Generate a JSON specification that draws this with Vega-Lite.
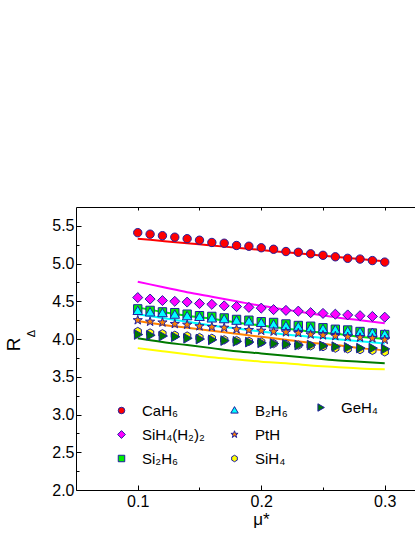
{
  "$schema": "https://vega.github.io/schema/vega-lite/v6.json",
  "width": 339,
  "height": 283,
  "autosize": "none",
  "padding": {"left": 76, "top": 207, "right": 0, "bottom": 47},
  "background": "white",
  "config": {
    "font": "Liberation Sans",
    "view": {"stroke": null},
    "axis": {"grid": false, "labelFont": "Liberation Sans", "labelFontSize": 16, "labelColor": "black", "titleFont": "Liberation Sans", "titleFontWeight": "normal", "titleColor": "black", "domainColor": "black", "tickColor": "black", "domainWidth": 1, "tickWidth": 1},
    "legend": {"labelFont": "Liberation Sans", "labelFontSize": 15, "labelColor": "black", "symbolSize": 42, "symbolStrokeWidth": 1, "labelOffset": 13, "rowPadding": 8, "padding": 0}
  },
  "datasets": {
    "pts": [
      {"series":"CaH₆","mu":0.10,"r":5.41},{"series":"CaH₆","mu":0.11,"r":5.39},{"series":"CaH₆","mu":0.12,"r":5.37},{"series":"CaH₆","mu":0.13,"r":5.35},{"series":"CaH₆","mu":0.14,"r":5.33},{"series":"CaH₆","mu":0.15,"r":5.31},{"series":"CaH₆","mu":0.16,"r":5.28},{"series":"CaH₆","mu":0.17,"r":5.27},{"series":"CaH₆","mu":0.18,"r":5.24},{"series":"CaH₆","mu":0.19,"r":5.23},{"series":"CaH₆","mu":0.20,"r":5.21},{"series":"CaH₆","mu":0.21,"r":5.19},{"series":"CaH₆","mu":0.22,"r":5.16},{"series":"CaH₆","mu":0.23,"r":5.15},{"series":"CaH₆","mu":0.24,"r":5.13},{"series":"CaH₆","mu":0.25,"r":5.11},{"series":"CaH₆","mu":0.26,"r":5.09},{"series":"CaH₆","mu":0.27,"r":5.07},{"series":"CaH₆","mu":0.28,"r":5.06},{"series":"CaH₆","mu":0.29,"r":5.04},{"series":"CaH₆","mu":0.30,"r":5.02},
      {"series":"SiH₄(H₂)₂","mu":0.10,"r":4.55},{"series":"SiH₄(H₂)₂","mu":0.11,"r":4.53},{"series":"SiH₄(H₂)₂","mu":0.12,"r":4.51},{"series":"SiH₄(H₂)₂","mu":0.13,"r":4.50},{"series":"SiH₄(H₂)₂","mu":0.14,"r":4.49},{"series":"SiH₄(H₂)₂","mu":0.15,"r":4.47},{"series":"SiH₄(H₂)₂","mu":0.16,"r":4.46},{"series":"SiH₄(H₂)₂","mu":0.17,"r":4.44},{"series":"SiH₄(H₂)₂","mu":0.18,"r":4.43},{"series":"SiH₄(H₂)₂","mu":0.19,"r":4.42},{"series":"SiH₄(H₂)₂","mu":0.20,"r":4.41},{"series":"SiH₄(H₂)₂","mu":0.21,"r":4.39},{"series":"SiH₄(H₂)₂","mu":0.22,"r":4.38},{"series":"SiH₄(H₂)₂","mu":0.23,"r":4.37},{"series":"SiH₄(H₂)₂","mu":0.24,"r":4.35},{"series":"SiH₄(H₂)₂","mu":0.25,"r":4.34},{"series":"SiH₄(H₂)₂","mu":0.26,"r":4.33},{"series":"SiH₄(H₂)₂","mu":0.27,"r":4.32},{"series":"SiH₄(H₂)₂","mu":0.28,"r":4.31},{"series":"SiH₄(H₂)₂","mu":0.29,"r":4.30},{"series":"SiH₄(H₂)₂","mu":0.30,"r":4.29},
      {"series":"Si₂H₆","mu":0.10,"r":4.40},{"series":"Si₂H₆","mu":0.11,"r":4.38},{"series":"Si₂H₆","mu":0.12,"r":4.36},{"series":"Si₂H₆","mu":0.13,"r":4.35},{"series":"Si₂H₆","mu":0.14,"r":4.33},{"series":"Si₂H₆","mu":0.15,"r":4.31},{"series":"Si₂H₆","mu":0.16,"r":4.30},{"series":"Si₂H₆","mu":0.17,"r":4.28},{"series":"Si₂H₆","mu":0.18,"r":4.26},{"series":"Si₂H₆","mu":0.19,"r":4.25},{"series":"Si₂H₆","mu":0.20,"r":4.23},{"series":"Si₂H₆","mu":0.21,"r":4.22},{"series":"Si₂H₆","mu":0.22,"r":4.20},{"series":"Si₂H₆","mu":0.23,"r":4.18},{"series":"Si₂H₆","mu":0.24,"r":4.17},{"series":"Si₂H₆","mu":0.25,"r":4.15},{"series":"Si₂H₆","mu":0.26,"r":4.13},{"series":"Si₂H₆","mu":0.27,"r":4.12},{"series":"Si₂H₆","mu":0.28,"r":4.10},{"series":"Si₂H₆","mu":0.29,"r":4.08},{"series":"Si₂H₆","mu":0.30,"r":4.06},
      {"series":"B₂H₆","mu":0.10,"r":4.37},{"series":"B₂H₆","mu":0.11,"r":4.35},{"series":"B₂H₆","mu":0.12,"r":4.34},{"series":"B₂H₆","mu":0.13,"r":4.32},{"series":"B₂H₆","mu":0.14,"r":4.30},{"series":"B₂H₆","mu":0.15,"r":4.29},{"series":"B₂H₆","mu":0.16,"r":4.27},{"series":"B₂H₆","mu":0.17,"r":4.26},{"series":"B₂H₆","mu":0.18,"r":4.24},{"series":"B₂H₆","mu":0.19,"r":4.23},{"series":"B₂H₆","mu":0.20,"r":4.21},{"series":"B₂H₆","mu":0.21,"r":4.19},{"series":"B₂H₆","mu":0.22,"r":4.17},{"series":"B₂H₆","mu":0.23,"r":4.16},{"series":"B₂H₆","mu":0.24,"r":4.14},{"series":"B₂H₆","mu":0.25,"r":4.13},{"series":"B₂H₆","mu":0.26,"r":4.12},{"series":"B₂H₆","mu":0.27,"r":4.10},{"series":"B₂H₆","mu":0.28,"r":4.09},{"series":"B₂H₆","mu":0.29,"r":4.08},{"series":"B₂H₆","mu":0.30,"r":4.06},
      {"series":"PtH","mu":0.10,"r":4.25},{"series":"PtH","mu":0.11,"r":4.23},{"series":"PtH","mu":0.12,"r":4.22},{"series":"PtH","mu":0.13,"r":4.20},{"series":"PtH","mu":0.14,"r":4.19},{"series":"PtH","mu":0.15,"r":4.17},{"series":"PtH","mu":0.16,"r":4.16},{"series":"PtH","mu":0.17,"r":4.15},{"series":"PtH","mu":0.18,"r":4.13},{"series":"PtH","mu":0.19,"r":4.12},{"series":"PtH","mu":0.20,"r":4.11},{"series":"PtH","mu":0.21,"r":4.10},{"series":"PtH","mu":0.22,"r":4.09},{"series":"PtH","mu":0.23,"r":4.08},{"series":"PtH","mu":0.24,"r":4.06},{"series":"PtH","mu":0.25,"r":4.05},{"series":"PtH","mu":0.26,"r":4.04},{"series":"PtH","mu":0.27,"r":4.03},{"series":"PtH","mu":0.28,"r":4.02},{"series":"PtH","mu":0.29,"r":4.01},{"series":"PtH","mu":0.30,"r":3.99},
      {"series":"SiH₄","mu":0.10,"r":4.10},{"series":"SiH₄","mu":0.11,"r":4.08},{"series":"SiH₄","mu":0.12,"r":4.07},{"series":"SiH₄","mu":0.13,"r":4.05},{"series":"SiH₄","mu":0.14,"r":4.04},{"series":"SiH₄","mu":0.15,"r":4.02},{"series":"SiH₄","mu":0.16,"r":4.01},{"series":"SiH₄","mu":0.17,"r":3.99},{"series":"SiH₄","mu":0.18,"r":3.98},{"series":"SiH₄","mu":0.19,"r":3.97},{"series":"SiH₄","mu":0.20,"r":3.96},{"series":"SiH₄","mu":0.21,"r":3.94},{"series":"SiH₄","mu":0.22,"r":3.93},{"series":"SiH₄","mu":0.23,"r":3.92},{"series":"SiH₄","mu":0.24,"r":3.91},{"series":"SiH₄","mu":0.25,"r":3.90},{"series":"SiH₄","mu":0.26,"r":3.88},{"series":"SiH₄","mu":0.27,"r":3.87},{"series":"SiH₄","mu":0.28,"r":3.86},{"series":"SiH₄","mu":0.29,"r":3.85},{"series":"SiH₄","mu":0.30,"r":3.83},
      {"series":"GeH₄","mu":0.10,"r":4.06},{"series":"GeH₄","mu":0.11,"r":4.05},{"series":"GeH₄","mu":0.12,"r":4.04},{"series":"GeH₄","mu":0.13,"r":4.03},{"series":"GeH₄","mu":0.14,"r":4.01},{"series":"GeH₄","mu":0.15,"r":4.00},{"series":"GeH₄","mu":0.16,"r":3.99},{"series":"GeH₄","mu":0.17,"r":3.98},{"series":"GeH₄","mu":0.18,"r":3.97},{"series":"GeH₄","mu":0.19,"r":3.96},{"series":"GeH₄","mu":0.20,"r":3.95},{"series":"GeH₄","mu":0.21,"r":3.94},{"series":"GeH₄","mu":0.22,"r":3.93},{"series":"GeH₄","mu":0.23,"r":3.92},{"series":"GeH₄","mu":0.24,"r":3.92},{"series":"GeH₄","mu":0.25,"r":3.91},{"series":"GeH₄","mu":0.26,"r":3.90},{"series":"GeH₄","mu":0.27,"r":3.89},{"series":"GeH₄","mu":0.28,"r":3.88},{"series":"GeH₄","mu":0.29,"r":3.88},{"series":"GeH₄","mu":0.30,"r":3.87}
    ],
    "fit": [
      {"series":"CaH₆","mu":0.10,"r":5.33},{"series":"CaH₆","mu":0.12,"r":5.30},{"series":"CaH₆","mu":0.14,"r":5.27},{"series":"CaH₆","mu":0.16,"r":5.24},{"series":"CaH₆","mu":0.18,"r":5.21},{"series":"CaH₆","mu":0.20,"r":5.18},{"series":"CaH₆","mu":0.22,"r":5.15},{"series":"CaH₆","mu":0.24,"r":5.12},{"series":"CaH₆","mu":0.26,"r":5.09},{"series":"CaH₆","mu":0.28,"r":5.06},{"series":"CaH₆","mu":0.30,"r":5.03},
      {"series":"SiH₄(H₂)₂","mu":0.10,"r":4.76},{"series":"SiH₄(H₂)₂","mu":0.12,"r":4.69},{"series":"SiH₄(H₂)₂","mu":0.14,"r":4.62},{"series":"SiH₄(H₂)₂","mu":0.16,"r":4.56},{"series":"SiH₄(H₂)₂","mu":0.18,"r":4.50},{"series":"SiH₄(H₂)₂","mu":0.20,"r":4.44},{"series":"SiH₄(H₂)₂","mu":0.22,"r":4.39},{"series":"SiH₄(H₂)₂","mu":0.24,"r":4.34},{"series":"SiH₄(H₂)₂","mu":0.26,"r":4.29},{"series":"SiH₄(H₂)₂","mu":0.28,"r":4.25},{"series":"SiH₄(H₂)₂","mu":0.30,"r":4.21},
      {"series":"Si₂H₆","mu":0.10,"r":4.42},{"series":"Si₂H₆","mu":0.12,"r":4.36},{"series":"Si₂H₆","mu":0.14,"r":4.31},{"series":"Si₂H₆","mu":0.16,"r":4.27},{"series":"Si₂H₆","mu":0.18,"r":4.22},{"series":"Si₂H₆","mu":0.20,"r":4.18},{"series":"Si₂H₆","mu":0.22,"r":4.14},{"series":"Si₂H₆","mu":0.24,"r":4.10},{"series":"Si₂H₆","mu":0.26,"r":4.07},{"series":"Si₂H₆","mu":0.28,"r":4.03},{"series":"Si₂H₆","mu":0.30,"r":4.00},
      {"series":"B₂H₆","mu":0.10,"r":4.33},{"series":"B₂H₆","mu":0.12,"r":4.28},{"series":"B₂H₆","mu":0.14,"r":4.23},{"series":"B₂H₆","mu":0.16,"r":4.18},{"series":"B₂H₆","mu":0.18,"r":4.14},{"series":"B₂H₆","mu":0.20,"r":4.10},{"series":"B₂H₆","mu":0.22,"r":4.06},{"series":"B₂H₆","mu":0.24,"r":4.03},{"series":"B₂H₆","mu":0.26,"r":4.00},{"series":"B₂H₆","mu":0.28,"r":3.97},{"series":"B₂H₆","mu":0.30,"r":3.94},
      {"series":"PtH","mu":0.10,"r":4.24},{"series":"PtH","mu":0.12,"r":4.19},{"series":"PtH","mu":0.14,"r":4.15},{"series":"PtH","mu":0.16,"r":4.11},{"series":"PtH","mu":0.18,"r":4.07},{"series":"PtH","mu":0.20,"r":4.03},{"series":"PtH","mu":0.22,"r":3.99},{"series":"PtH","mu":0.24,"r":3.95},{"series":"PtH","mu":0.26,"r":3.92},{"series":"PtH","mu":0.28,"r":3.88},{"series":"PtH","mu":0.30,"r":3.85},
      {"series":"SiH₄","mu":0.10,"r":3.88},{"series":"SiH₄","mu":0.12,"r":3.84},{"series":"SiH₄","mu":0.14,"r":3.80},{"series":"SiH₄","mu":0.16,"r":3.76},{"series":"SiH₄","mu":0.18,"r":3.73},{"series":"SiH₄","mu":0.20,"r":3.70},{"series":"SiH₄","mu":0.22,"r":3.68},{"series":"SiH₄","mu":0.24,"r":3.65},{"series":"SiH₄","mu":0.26,"r":3.63},{"series":"SiH₄","mu":0.28,"r":3.61},{"series":"SiH₄","mu":0.30,"r":3.60},
      {"series":"GeH₄","mu":0.10,"r":4.01},{"series":"GeH₄","mu":0.12,"r":3.96},{"series":"GeH₄","mu":0.14,"r":3.92},{"series":"GeH₄","mu":0.16,"r":3.88},{"series":"GeH₄","mu":0.18,"r":3.84},{"series":"GeH₄","mu":0.20,"r":3.81},{"series":"GeH₄","mu":0.22,"r":3.78},{"series":"GeH₄","mu":0.24,"r":3.75},{"series":"GeH₄","mu":0.26,"r":3.72},{"series":"GeH₄","mu":0.28,"r":3.70},{"series":"GeH₄","mu":0.30,"r":3.68}
    ]
  },
  "layer": [
    {
      "data": {"name": "fit"},
      "mark": {"type": "line", "strokeWidth": 2, "interpolate": "monotone"},
      "encoding": {
        "x": {"field": "mu", "type": "quantitative", "scale": {"domain": [0.05, 0.3245], "nice": false, "zero": false},
          "axis": {"orient": "bottom", "values": [0.1, 0.2, 0.3], "format": ".1f", "title": "μ*", "titleFontSize": 17, "tickSize": -5, "labelPadding": 8, "titleX": 185, "titlePadding": 2}},
        "y": {"field": "r", "type": "quantitative", "scale": {"domain": [2, 5.75], "nice": false, "zero": false},
          "axis": {"orient": "left", "values": [2, 2.5, 3, 3.5, 4, 4.5, 5, 5.5], "format": ".1f", "title": "R", "titleFontSize": 19, "tickSize": -5, "labelPadding": 7, "titleX": -53, "titleY": 137, "titleAlign": "center", "titleBaseline": "bottom", "titleAngle": 270}},
        "stroke": {"field": "series", "type": "nominal",
          "scale": {"domain": ["CaH₆", "SiH₄(H₂)₂", "Si₂H₆", "B₂H₆", "PtH", "SiH₄", "GeH₄"], "range": ["#ff0000", "#ff00ff", "#00ee00", "#00ffff", "#ff8000", "#ffff00", "#007a00"]},
          "legend": null}
      }
    },
    {
      "data": {"name": "pts"},
      "transform": [{"filter": {"field": "series", "oneOf": ["CaH₆", "SiH₄(H₂)₂", "Si₂H₆"]}}],
      "mark": {"type": "point", "filled": true, "strokeWidth": 1, "size": 70, "opacity": 1},
      "encoding": {
        "x": {"field": "mu", "type": "quantitative", "scale": {"domain": [0.05, 0.3245], "nice": false, "zero": false},
          "axis": {"orient": "bottom", "values": [0.15, 0.25], "labels": false, "domain": false, "title": null, "tickSize": -3}},
        "y": {"field": "r", "type": "quantitative", "scale": {"domain": [2, 5.75], "nice": false, "zero": false},
          "axis": {"orient": "left", "values": [2.25, 2.75, 3.25, 3.75, 4.25, 4.75, 5.25], "labels": false, "domain": false, "title": "Δ", "titleFontSize": 11, "titleX": -40, "titleY": 126, "titleAlign": "center", "titleBaseline": "bottom", "titleAngle": 270, "tickSize": -3}},
        "shape": {"field": "series", "type": "nominal",
          "scale": {"domain": ["CaH₆", "SiH₄(H₂)₂", "Si₂H₆"], "range": ["circle", "M-1.2,0L0,-1.2L1.2,0L0,1.2Z", "square"]},
          "legend": {"orient": "none", "legendX": 38, "legendY": 196, "title": null}},
        "fill": {"field": "series", "type": "nominal",
          "scale": {"domain": ["CaH₆", "SiH₄(H₂)₂", "Si₂H₆"], "range": ["#ff0000", "#ff00ff", "#00ee00"]},
          "legend": {"orient": "none", "legendX": 38, "legendY": 196, "title": null}},
        "stroke": {"field": "series", "type": "nominal",
          "scale": {"domain": ["CaH₆", "SiH₄(H₂)₂", "Si₂H₆"], "range": ["#1f1f9f", "#1f1f9f", "#1f1f9f"]},
          "legend": {"orient": "none", "legendX": 38, "legendY": 196, "title": null}}
      }
    },
    {
      "data": {"name": "pts"},
      "transform": [{"filter": {"field": "series", "oneOf": ["B₂H₆", "PtH", "SiH₄"]}}],
      "mark": {"type": "point", "filled": true, "strokeWidth": 1, "size": 70, "opacity": 1},
      "encoding": {
        "x": {"field": "mu", "type": "quantitative", "scale": {"domain": [0.05, 0.3245], "nice": false, "zero": false},
          "axis": {"orient": "top", "values": [0.1, 0.15, 0.2, 0.25, 0.3], "labels": false, "title": null, "tickSize": -3}},
        "y": {"field": "r", "type": "quantitative", "scale": {"domain": [2, 5.75], "nice": false, "zero": false}, "axis": null},
        "shape": {"field": "series", "type": "nominal",
          "scale": {"domain": ["B₂H₆", "PtH", "SiH₄"], "range": ["M0,-1.2L1.15,0.8L-1.15,0.8Z", "M0,-1.15L0.27,-0.37L1.1,-0.36L0.44,0.14L0.68,0.93L0,0.45L-0.68,0.93L-0.44,0.14L-1.1,-0.36L-0.27,-0.37Z", "M0,-1L0.866,-0.5L0.866,0.5L0,1L-0.866,0.5L-0.866,-0.5Z"]},
          "legend": {"orient": "none", "legendX": 151, "legendY": 196, "title": null}},
        "fill": {"field": "series", "type": "nominal",
          "scale": {"domain": ["B₂H₆", "PtH", "SiH₄"], "range": ["#00ffff", "#ff8000", "#ffff00"]},
          "legend": {"orient": "none", "legendX": 151, "legendY": 196, "title": null}},
        "stroke": {"field": "series", "type": "nominal",
          "scale": {"domain": ["B₂H₆", "PtH", "SiH₄"], "range": ["#1f1f9f", "#1f1f9f", "#1f1f9f"]},
          "legend": {"orient": "none", "legendX": 151, "legendY": 196, "title": null}}
      }
    },
    {
      "data": {"name": "pts"},
      "transform": [{"filter": {"field": "series", "oneOf": ["GeH₄"]}}],
      "mark": {"type": "point", "filled": true, "strokeWidth": 1, "size": 70, "opacity": 1},
      "encoding": {
        "x": {"field": "mu", "type": "quantitative", "scale": {"domain": [0.05, 0.3245], "nice": false, "zero": false}, "axis": null},
        "y": {"field": "r", "type": "quantitative", "scale": {"domain": [2, 5.75], "nice": false, "zero": false}, "axis": null},
        "shape": {"field": "series", "type": "nominal",
          "scale": {"domain": ["GeH₄"], "range": ["M-0.8,-1.15L1.2,0L-0.8,1.15Z"]},
          "legend": {"orient": "none", "legendX": 237, "legendY": 193, "title": null}},
        "fill": {"field": "series", "type": "nominal",
          "scale": {"domain": ["GeH₄"], "range": ["#007a00"]},
          "legend": {"orient": "none", "legendX": 237, "legendY": 193, "title": null}},
        "stroke": {"field": "series", "type": "nominal",
          "scale": {"domain": ["GeH₄"], "range": ["#1f1f9f"]},
          "legend": {"orient": "none", "legendX": 237, "legendY": 193, "title": null}}
      }
    }
  ],
  "resolve": {
    "scale": {"shape": "independent", "fill": "independent", "stroke": "independent"},
    "axis": {"x": "independent", "y": "independent"},
    "legend": {"shape": "independent", "fill": "independent", "stroke": "independent"}
  }
}
